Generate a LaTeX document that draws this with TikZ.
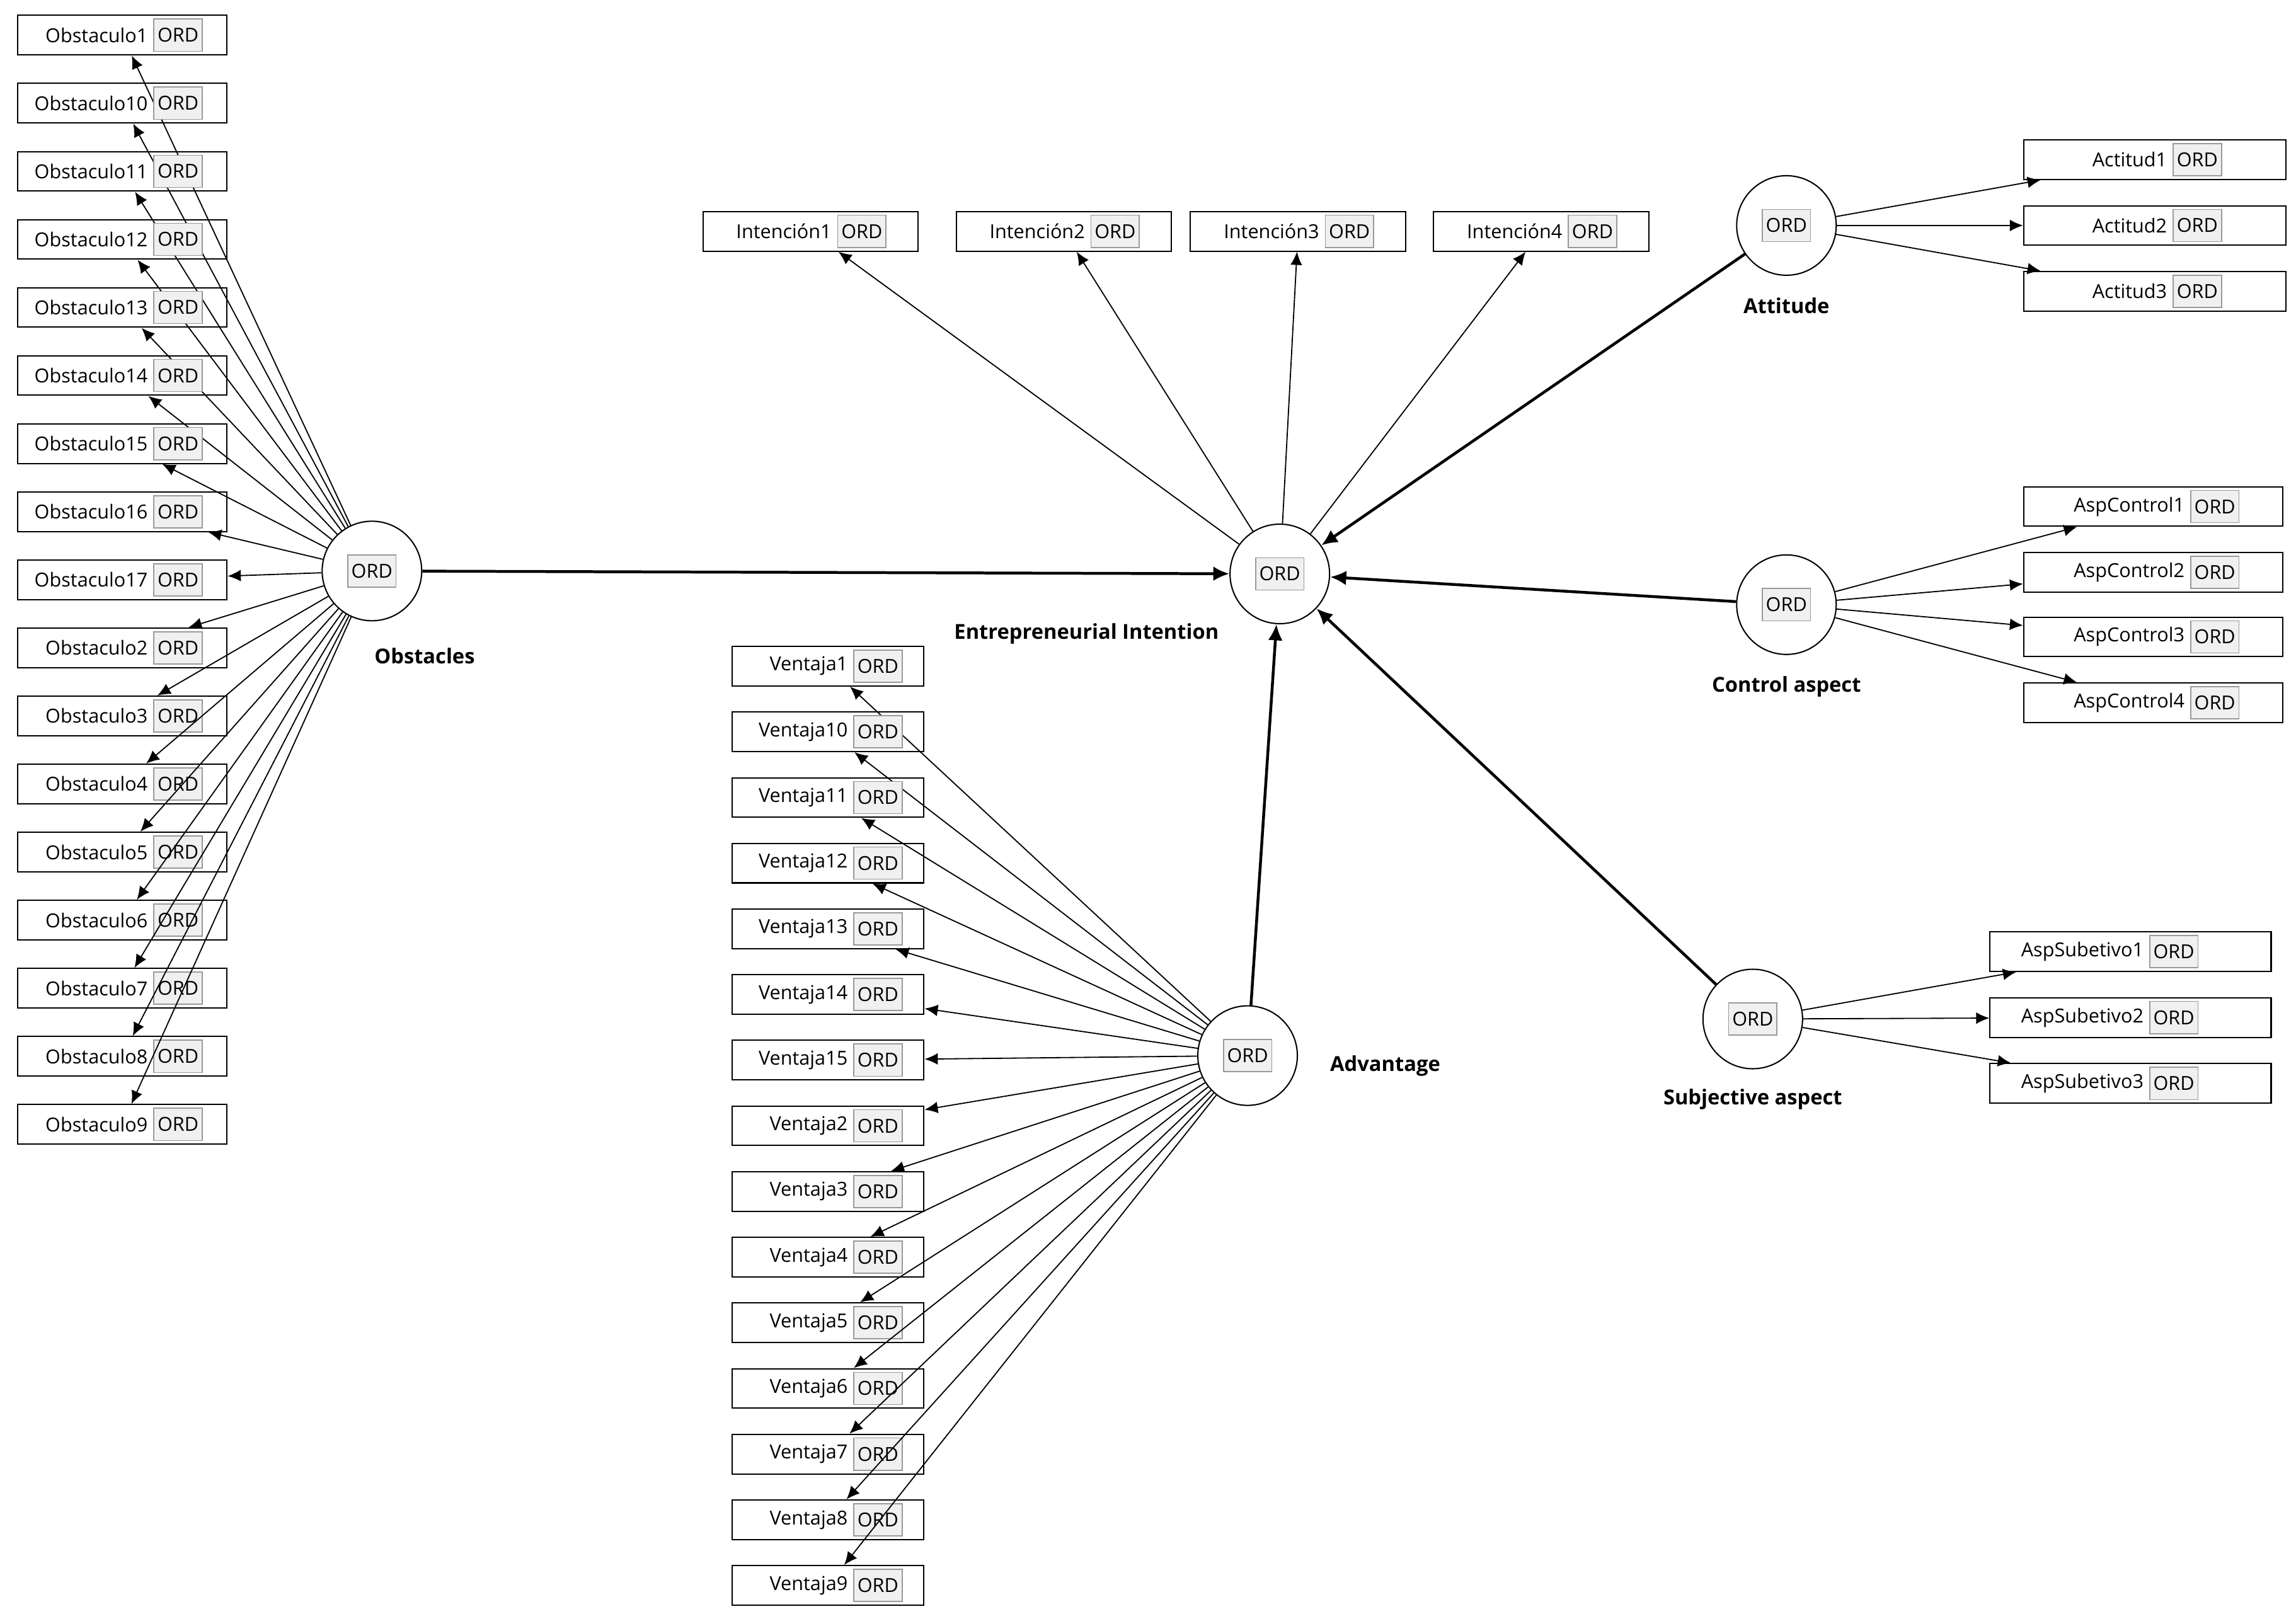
\documentclass[tikz,border=0pt]{standalone}
\usepackage{fontspec}
\setmainfont{Open Sans}
\usetikzlibrary{arrows.meta,positioning}
\tikzset{
	ind/.style	= {draw, line width=0.5pt, minimum height=0.54cm, inner sep=0pt},
	ord/.style	= {draw=gray!80, fill=gray!12, minimum width=0.66cm, minimum height=0.44cm, inner sep=0pt},
	lv/.style	= {circle, draw, line width=0.5pt, minimum size=1.36cm, inner sep=0pt},
	lvlab/.style	= {font=\fontsize{8}{9}\selectfont\bfseries},
	load/.style	= {-{Latex[length=1.8mm,width=1.6mm]}, line width=0.45pt},
	chemin/.style	= {-{Latex[length=2.2mm,width=2mm]}, line width=1.1pt}
}
% indicateur : nom, x, y, largeur, decalage ORD, texte
\newcommand{\indicateur}[6]{%
	\node[ind, minimum width=#4] (#1) at (#2,#3) {};
	\node[ord, anchor=east] (#1o) at ([xshift=-#5]#1.east) {ORD};
	\node[anchor=east, inner sep=2pt] at (#1o.west) {#6};
}
\begin{document}
\begin{tikzpicture}[x=0.02cm, y=-0.02cm, font=\fontsize{7.5}{9}\selectfont]
	\useasboundingbox (0,0) rectangle (1568,1102);
	% Variables latentes
	\node[lv] (obs) at (254,390) {};	\node[ord] at (obs) {ORD};
	\node[lv] (ei)  at (874,392) {};	\node[ord] at (ei)  {ORD};
	\node[lv] (att) at (1220,154) {};	\node[ord] at (att) {ORD};
	\node[lv] (ctl) at (1220,413) {};	\node[ord] at (ctl) {ORD};
	\node[lv] (sub) at (1197,696) {};	\node[ord] at (sub) {ORD};
	\node[lv] (adv) at (852,721) {};	\node[ord] at (adv) {ORD};
	% Etiquettes
	\node[lvlab] at (290,448)	{Obstacles};
	\node[lvlab] at (742,433)	{Entrepreneurial Intention};
	\node[lvlab] at (1220,209)	{Attitude};
	\node[lvlab] at (1220,469)	{Control aspect};
	\node[lvlab] at (1197,751)	{Subjective aspect};
	\node[lvlab] at (946,728)	{Advantage};
	% Obstacles
	\foreach \t [count=\i] in {1,10,11,12,13,14,15,16,17,2,3,4,5,6,7,8,9} {
		\pgfmathsetmacro\yy{24+(\i-1)*46.5}
		\indicateur{o\i}{83.5}{\yy}{2.86cm}{0.34cm}{Obstaculo\t}
		\draw[load] (obs) -- (o\i);
	}
	% Ventajas
	\foreach \t [count=\i] in {1,10,11,12,13,14,15,2,3,4,5,6,7,8,9} {
		\pgfmathsetmacro\yy{455+(\i-1)*44.85}
		\indicateur{v\i}{565.5}{\yy}{2.62cm}{0.3cm}{Ventaja\t}
		\draw[load] (adv) -- (v\i);
	}
	% Intenciones
	\foreach \t/\xx in {1/553.5, 2/726.5, 3/886.5, 4/1052.5} {
		\indicateur{n\t}{\xx}{158}{2.94cm}{0.44cm}{Intención\t}
		\draw[load] (ei) -- (n\t);
	}
	% Actitud
	\foreach \t/\yy in {1/109, 2/154, 3/199} {
		\indicateur{a\t}{1471.5}{\yy}{3.58cm}{0.88cm}{Actitud\t}
		\draw[load] (att) -- (a\t);
	}
	% Control
	\foreach \t/\yy in {1/346, 2/391, 3/435, 4/480} {
		\indicateur{c\t}{1470.5}{\yy}{3.54cm}{0.6cm}{AspControl\t}
		\draw[load] (ctl) -- (c\t);
	}
	% Subjetivo
	\foreach \t/\yy in {1/650, 2/695, 3/740} {
		\indicateur{s\t}{1455}{\yy}{3.84cm}{1.0cm}{AspSubetivo\t}
		\draw[load] (sub) -- (s\t);
	}
	% Chemins structurels
	\draw[chemin] (obs) -- (ei);
	\draw[chemin] (att) -- (ei);
	\draw[chemin] (ctl) -- (ei);
	\draw[chemin] (sub) -- (ei);
	\draw[chemin] (adv) -- (ei);
\end{tikzpicture}
\end{document}
